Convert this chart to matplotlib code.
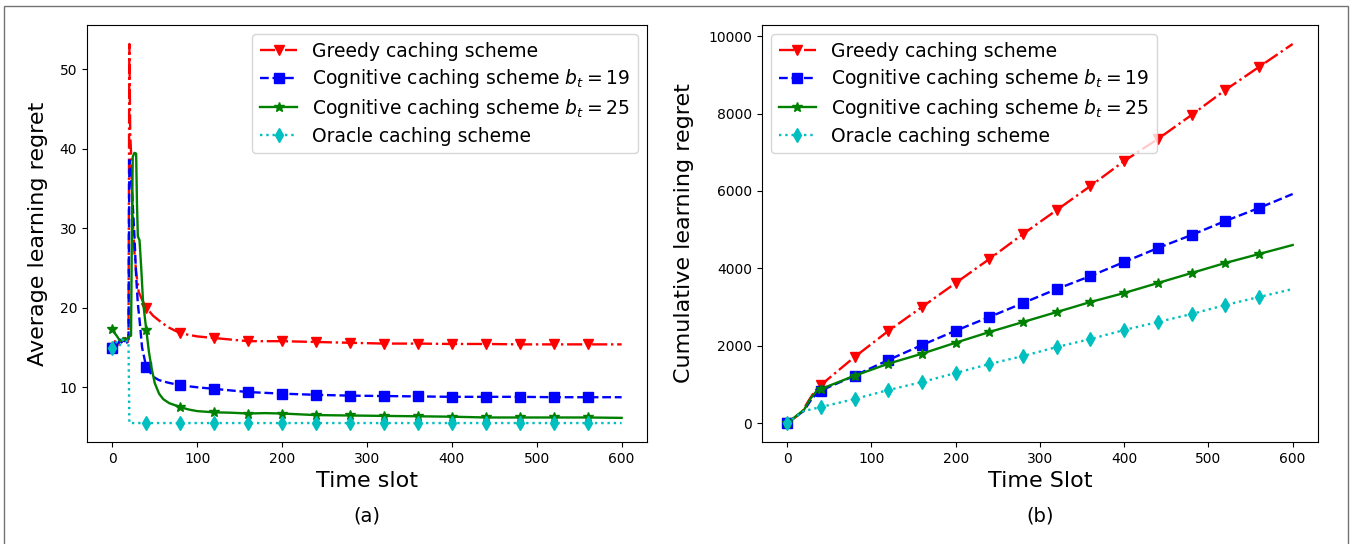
import numpy as np
import matplotlib
matplotlib.use("Agg")
import matplotlib.pyplot as plt
from matplotlib.patches import Rectangle

# ---- (a) average learning regret ----
greedy_t = [0, 3, 6, 9, 12, 15, 18, 19, 20, 21, 22, 24, 26, 28, 31, 35, 40, 48, 55, 65, 80,
            100, 120, 140, 160, 200, 240, 280, 320, 360, 400, 440, 480, 520, 560, 600]
greedy_avg = [15.0, 15.8, 15.3, 16.0, 15.6, 16.2, 15.7, 16.5, 53.2, 42.0, 39.5, 31.0, 27.0, 24.5,
              22.0, 21.0, 20.0, 19.0, 18.4, 17.6, 16.8, 16.4, 16.2, 16.0, 15.8, 15.8, 15.7, 15.6,
              15.5, 15.5, 15.45, 15.45, 15.4, 15.4, 15.4, 15.4]

cog19_t = [0, 3, 6, 9, 12, 15, 18, 19, 20, 22, 24, 26, 28, 30, 32, 35, 40, 45, 50, 55, 65, 80,
           100, 120, 160, 200, 240, 280, 320, 360, 400, 440, 480, 520, 560, 600]
cog19_avg = [14.9, 15.6, 15.2, 16.0, 15.4, 16.1, 15.5, 16.0, 38.6, 37.0, 33.0, 29.0, 24.0, 20.5,
             18.5, 15.0, 12.5, 11.8, 11.2, 10.9, 10.6, 10.25, 10.0, 9.8, 9.4, 9.2, 9.05, 8.95,
             8.9, 8.85, 8.8, 8.8, 8.8, 8.75, 8.75, 8.75]

cog25_t = [0, 2, 5, 8, 10, 13, 15, 18, 20, 22, 23, 24, 26, 28, 29, 30, 32, 34, 36, 38, 40, 43,
           46, 50, 55, 60, 67, 75, 80, 90, 100, 120, 140, 160, 180, 200, 220, 240, 280, 320,
           360, 400, 440, 480, 520, 560, 600]
cog25_avg = [17.3, 16.9, 16.5, 16.0, 15.8, 16.2, 15.9, 16.2, 16.4, 16.5, 30.0, 39.0, 39.5, 39.4,
             33.0, 29.0, 28.5, 25.0, 21.0, 19.0, 17.2, 14.5, 12.5, 10.5, 9.2, 8.5, 8.0, 7.7,
             7.5, 7.2, 7.0, 6.85, 6.8, 6.7, 6.75, 6.7, 6.6, 6.5, 6.45, 6.4, 6.35, 6.3, 6.2,
             6.2, 6.2, 6.2, 6.15]

oracle_t = [0, 3, 6, 9, 12, 15, 18, 19, 20, 40, 80, 120, 160, 200, 240, 280, 320, 360, 400,
            440, 480, 520, 560, 600]
oracle_avg = [14.9, 15.5, 15.8, 15.3, 16.0, 15.6, 15.9, 15.5, 5.5, 5.5, 5.5, 5.5, 5.5, 5.5, 5.5,
              5.5, 5.5, 5.5, 5.5, 5.5, 5.5, 5.5, 5.5, 5.5]

# ---- (b) cumulative learning regret ----
greedy_ct = [0, 10, 18, 25, 32, 40, 80, 120, 160, 200, 240, 280, 320, 360, 400, 440, 480, 520,
             560, 600]
greedy_cum = [0, 150, 300, 560, 800, 983, 1707, 2379, 3000, 3620, 4241, 4888, 5508, 6129, 6775,
              7344, 7965, 8611, 9206, 9801]

cog19_ct = [0, 10, 20, 30, 40, 80, 120, 160, 200, 240, 280, 320, 360, 400, 440, 480, 520, 560,
            600]
cog19_cum = [0, 160, 320, 650, 840, 1223, 1629, 2017, 2387, 2741, 3103, 3465, 3801, 4163, 4525,
             4862, 5224, 5560, 5922]

cog25_ct = [0, 10, 20, 28, 35, 40, 80, 120, 160, 200, 240, 280, 320, 360, 400, 440, 480, 520,
            560, 600]
cog25_cum = [0, 170, 340, 640, 830, 879, 1223, 1534, 1793, 2077, 2353, 2612, 2870, 3129, 3362,
             3620, 3879, 4138, 4370, 4603]

oracle_ct = [0, 10, 20, 40, 80, 120, 160, 200, 240, 280, 320, 360, 400, 440, 480, 520, 560, 600]
oracle_cum = [0, 155, 310, 414, 620, 853, 1060, 1293, 1526, 1733, 1965, 2172, 2405, 2612, 2819,
              3051, 3258, 3465]

labels = ["Greedy caching scheme",
          r"Cognitive caching scheme $b_t=19$",
          r"Cognitive caching scheme $b_t=25$",
          "Oracle caching scheme"]
styles = [("r", "-.", "v", 7.5), ("b", "--", "s", 7), ("g", "-", "*", 7.5), ("c", ":", "d", 7)]
mark_t = np.arange(0, 600, 40)


def marks(t):
    return list(np.where(np.isin(np.array(t), mark_t))[0])


fig = plt.figure(figsize=(13.58, 5.44), dpi=100)
ax1 = fig.add_axes([0.064, 0.1875, 0.4125, 0.7665])
ax2 = fig.add_axes([0.561, 0.1875, 0.4095, 0.7665])

series_a = [(greedy_t, greedy_avg), (cog19_t, cog19_avg), (cog25_t, cog25_avg), (oracle_t, oracle_avg)]
series_b = [(greedy_ct, greedy_cum), (cog19_ct, cog19_cum), (cog25_ct, cog25_cum), (oracle_ct, oracle_cum)]

for ax, series in [(ax1, series_a), (ax2, series_b)]:
    for (t, v), (c, ls, m, ms), lab in zip(series, styles, labels):
        ax.plot(t, v, color=c, linestyle=ls, marker=m, markersize=ms, linewidth=1.7,
                markevery=marks(t), label=lab)
    ax.tick_params(labelsize=10)
    ax.set_xticks([0, 100, 200, 300, 400, 500, 600])

ax1.set_xlabel("Time slot", fontsize=16)
ax1.set_ylabel("Average learning regret", fontsize=16, labelpad=8)
ax2.set_xlabel("Time Slot", fontsize=16)
ax2.set_ylabel("Cumulative learning regret", fontsize=16, labelpad=10)
ax1.legend(loc="upper right", fontsize=13.5, labelspacing=0.35)
ax2.legend(loc="upper left", fontsize=13.5, labelspacing=0.35)

ax1.text(0.5, -0.155, "(a)", transform=ax1.transAxes, ha="center", va="top", fontsize=14)
ax2.text(0.5, -0.155, "(b)", transform=ax2.transAxes, ha="center", va="top", fontsize=14)

fig.patches.append(Rectangle((4 / 1358, -0.02), 1344 / 1358, 538 / 544 + 0.02,
                             transform=fig.transFigure, fill=False, edgecolor="0.45",
                             linewidth=1.0))

fig.savefig("out.png", dpi=100)
